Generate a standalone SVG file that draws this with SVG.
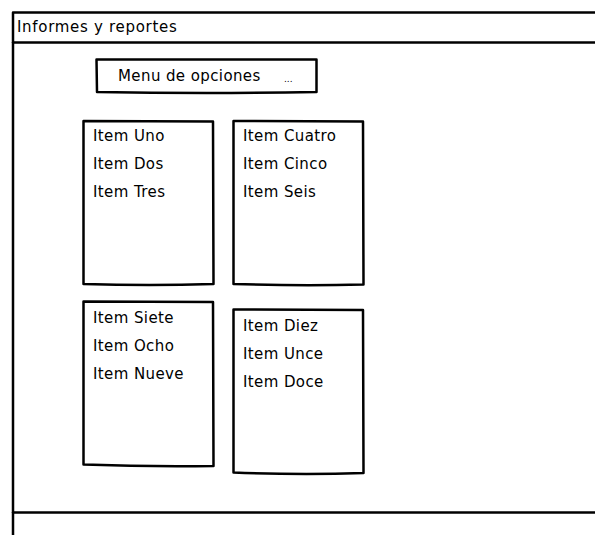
<svg xmlns="http://www.w3.org/2000/svg" width="595" height="535" viewBox="0 0 595 535">
<style>
.frame{fill:none;stroke:#000;stroke-width:2.5;stroke-linejoin:round;stroke-linecap:round}
.box{fill:#fff;stroke:#000;stroke-width:2.5;stroke-linejoin:round}
.t{font-family:"DejaVu Sans","Liberation Sans",Arial,sans-serif;font-size:15px;letter-spacing:0.4px;fill:#000}
.s{font-family:"DejaVu Sans","Liberation Sans",Arial,sans-serif;font-size:9px;fill:#000}
</style>
<rect width="595" height="535" fill="#fff"/>
<g id="window">
<path class="frame" d="M597 12.5 L13 12.5 L13 536"/>
<path class="frame" d="M13 42.5 L597 42.5"/>
<path class="frame" d="M13 512.5 L597 512.5"/>
<text class="t" x="17" y="32" style="letter-spacing:0.7px">Informes y reportes</text>
</g>
<g id="menu">
<path class="box" d="M96.5 59.5 L316.5 59.5 L316.5 92 Q206 94 97 92 Z"/>
<text class="t" x="118" y="81">Menu de opciones</text>
<text class="s" x="284" y="82">...</text>
</g>
<g id="list1">
<path class="box" d="M83.5 121 L213 121.5 L213.5 284 Q150 286 83.5 284 Z"/>
<text class="t" x="93" y="141">Item Uno</text>
<text class="t" x="93" y="169">Item Dos</text>
<text class="t" x="93" y="197">Item Tres</text>
</g>
<g id="list2">
<path class="box" d="M233.5 121 L363 121.5 L363.5 284.5 Q300 286 233.5 284 Z"/>
<text class="t" x="243" y="141">Item Cuatro</text>
<text class="t" x="243" y="169">Item Cinco</text>
<text class="t" x="243" y="197">Item Seis</text>
</g>
<g id="list3">
<path class="box" d="M83.5 301.5 L213 302 L213.5 466 Q150 467 83.5 464.5 Z"/>
<text class="t" x="93" y="323">Item Siete</text>
<text class="t" x="93" y="351">Item Ocho</text>
<text class="t" x="93" y="379">Item Nueve</text>
</g>
<g id="list4">
<path class="box" d="M233.5 309.5 L363 310 L363.5 473 Q300 475 233.5 472.5 Z"/>
<text class="t" x="243" y="331">Item Diez</text>
<text class="t" x="243" y="359">Item Unce</text>
<text class="t" x="243" y="387">Item Doce</text>
</g>
<g id="connectors"/>
</svg>
